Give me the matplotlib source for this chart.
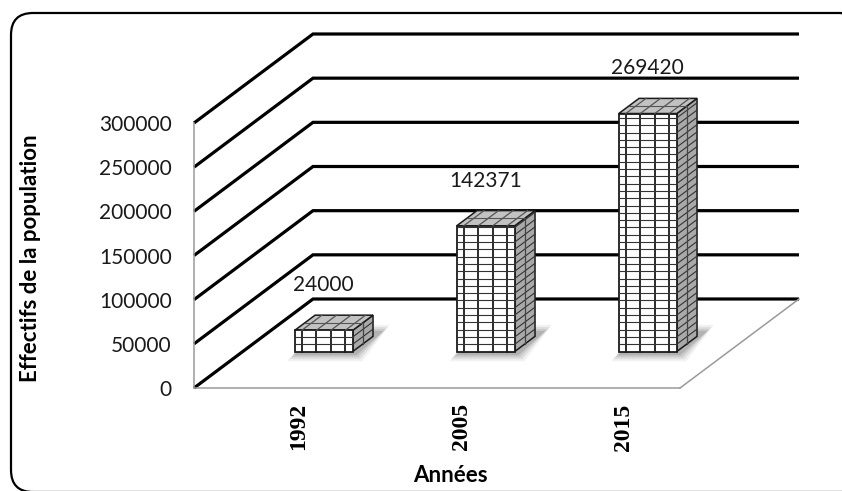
import numpy as np
import matplotlib
matplotlib.use("Agg")
import matplotlib.pyplot as plt
from matplotlib.patches import Polygon, FancyBboxPatch
from matplotlib.transforms import ScaledTranslation

annees = ['1992', '2005', '2015']
effectifs = [24000, 142371, 269420]
graduations = [0, 50000, 100000, 150000, 200000, 250000, 300000]

W, H = 842, 491
fig = plt.figure(figsize=(W / 100, H / 100), dpi=100)
fig.patch.set_facecolor('white')

# front plane of the box (pixels)
x0, x1 = 194, 680
y0, y1 = 388, 123
ax = fig.add_axes([x0 / W, 1 - y0 / H, (x1 - x0) / W, (y0 - y1) / H])
ax.set_xlim(0, 3)
ax.set_ylim(0, 300000)

px = 3 / (x1 - x0)            # category units per pixel
py = 300000 / (y0 - y1)       # value units per pixel
DX, DY = 119 * px, 89 * py    # full depth of the box


def proj(x, y, t):
    return x + t * DX, y + t * DY


# walls: thick black gridlines bent along the side wall
for v in graduations:
    xs = [0, DX, 3 + DX]
    ys = [v, v + DY, v + DY]
    ax.plot(xs, ys, color='black', lw=2.3, clip_on=False,
            solid_joinstyle='miter', solid_capstyle='butt', zorder=1)

# floor edges
ax.plot([3, 3 + DX], [0, DY], color='#9a9a9a', lw=1.1, clip_on=False, zorder=1)

for s in ['top', 'right']:
    ax.spines[s].set_visible(False)
for s in ['left', 'bottom']:
    ax.spines[s].set_color('#9a9a9a')
    ax.spines[s].set_linewidth(1.1)

# bars
T0, T1 = 0.41, 0.58
BW = 58 * px
col_step = 14.5
row_step = 7.3
lc = '#1a1a1a'

for i, val in enumerate(effectifs):
    xl = i + 0.5 - BW / 2
    xr = i + 0.5 + BW / 2

    # soft shadow on the floor
    for m, a in [(8, 0.05), (6, 0.07), (4, 0.09), (2, 0.12)]:
        mx, my = m * px, m * py
        pts = [proj(xl - mx + 3 * px, -my, T0 - 0.02),
               proj(xr + mx + 4 * px, -my, T0 - 0.02),
               proj(xr + mx + 4 * px, my, T1 + 0.04),
               proj(xl - mx + 3 * px, my, T1 + 0.04)]
        ax.add_patch(Polygon(pts, closed=True, facecolor='black', alpha=a,
                             edgecolor='none', clip_on=False, zorder=2))

    front = [proj(xl, 0, T0), proj(xr, 0, T0), proj(xr, val, T0), proj(xl, val, T0)]
    side = [proj(xr, 0, T0), proj(xr, 0, T1), proj(xr, val, T1), proj(xr, val, T0)]
    top = [proj(xl, val, T0), proj(xr, val, T0), proj(xr, val, T1), proj(xl, val, T1)]
    ax.add_patch(Polygon(side, closed=True, facecolor='#a9a9a9', edgecolor=lc,
                         lw=1.1, clip_on=False, zorder=3))
    ax.add_patch(Polygon(top, closed=True, facecolor='#c2c2c2', edgecolor=lc,
                         lw=1.1, clip_on=False, zorder=3))
    ax.add_patch(Polygon(front, closed=True, facecolor='white', edgecolor=lc,
                         lw=1.3, clip_on=False, zorder=3))

    # grid pattern: columns on front and top, rows on front and side
    cols = xl + (7 + col_step * np.arange(4)) * px
    for c in cols:
        fx, fy = proj(c, 0, T0)
        tx, ty = proj(c, val, T0)
        ax.plot([fx, tx], [fy, ty], color=lc, lw=1.3, clip_on=False, zorder=4)
        bx, by = proj(c, val, T1)
        ax.plot([tx, bx], [ty, by], color='#555555', lw=0.9, clip_on=False, zorder=4)
    mx_, my_ = proj(xl, val, (T0 + T1) / 2)
    ex_, ey_ = proj(xr, val, (T0 + T1) / 2)
    ax.plot([mx_, ex_], [my_, ey_], color='#555555', lw=0.8, clip_on=False, zorder=4)

    rows = np.arange(row_step, val / py, row_step) * py
    for r in rows:
        ax_, ay_ = proj(xl, r, T0)
        bx_, by_ = proj(xr, r, T0)
        ax.plot([ax_, bx_], [ay_, by_], color='#333333', lw=0.8, clip_on=False, zorder=4)
        cx_, cy_ = proj(xr, r, T1)
        ax.plot([bx_, cx_], [by_, cy_], color='#333333', lw=0.8, clip_on=False, zorder=4)
    sx0, sy0 = proj(xr, 0, (T0 + T1) / 2)
    sx1, sy1 = proj(xr, val, (T0 + T1) / 2)
    ax.plot([sx0, sx1], [sy0, sy1], color='#444444', lw=0.9, clip_on=False, zorder=4)

# value labels above the bars
for i, val in enumerate(effectifs):
    _, ly = proj(i + 0.5, val, T1)
    lx, _ = proj(i + 0.5, val, T0)
    ax.annotate(str(val), (lx, ly), xytext=(0, 30 * 0.72),
                textcoords='offset points', ha='center', va='center',
                fontsize=15, family='Lato', color='#1a1a1a',
                annotation_clip=False, zorder=5)

# axes text
ax.set_yticks(graduations)
ax.set_yticklabels([str(v) for v in graduations], family='Lato', fontsize=15,
                   color='#1a1a1a')
ax.tick_params(axis='y', length=0, pad=16)
ax.set_xticks([0.5, 1.5, 2.5])
ax.set_xticklabels(annees, rotation=90, family='Liberation Serif',
                   fontweight='bold', fontsize=17, va='top', ha='center')
ax.tick_params(axis='x', length=0, pad=11)
shift = ScaledTranslation(24 / 100, 0, fig.dpi_scale_trans)
for lab in ax.get_xticklabels():
    lab.set_transform(lab.get_transform() + shift)

ax.set_ylabel('Effectifs de la population', family='Lato', fontweight='bold',
              fontsize=16)
ax.yaxis.set_label_coords((31 - x0) / (x1 - x0), 0.49)
ax.set_xlabel('Années', family='Lato', fontweight='bold', fontsize=16)
ax.xaxis.set_label_coords((450 - x0) / (x1 - x0), (y0 - 476) / (y0 - y1))
ax.xaxis.label.set_va('center')
ax.yaxis.label.set_va('center')

# rounded chart frame
frame = FancyBboxPatch((0.11, -0.01), 8.52, 4.79,
                       boxstyle='round,pad=0,rounding_size=0.22',
                       transform=fig.dpi_scale_trans, facecolor='none',
                       edgecolor='black', lw=1.6, clip_on=False)
fig.patches.append(frame)

fig.savefig('out.png', dpi=100)
